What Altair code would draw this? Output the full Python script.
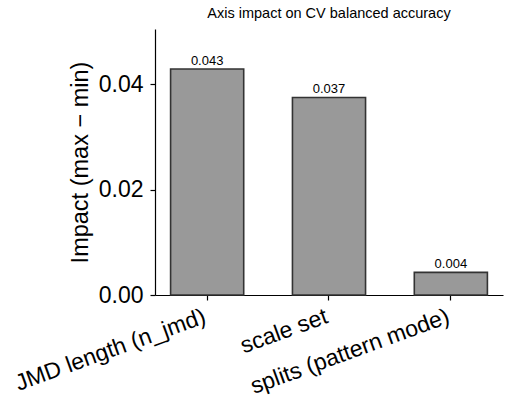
import altair as alt
import pandas as pd

categories = ["JMD length (n_jmd)", "scale set", "splits (pattern mode)"]
impacts = [0.0429, 0.0375, 0.0043]
value_labels = ["0.043", "0.037", "0.004"]

df = pd.DataFrame({"axis": categories, "impact": impacts, "label": value_labels})

FONT = "Liberation Sans"

base = alt.Chart(df).encode(
    x=alt.X(
        "axis:N",
        sort=categories,
        scale=alt.Scale(paddingInner=0.4, paddingOuter=0.128),
        axis=alt.Axis(
            title=None,
            labelAngle=340,
            labelAlign="right",
            labelBaseline="top",
            labelFontSize=23,
            labelPadding=5,
            labelOffset=-6,
            tickSize=5,
            labelLimit=400,
        ),
    ),
    y=alt.Y(
        "impact:Q",
        scale=alt.Scale(domain=[0, 0.0505], nice=False),
        axis=alt.Axis(
            values=[0, 0.02, 0.04],
            format=".2f",
            title="Impact (max − min)",
            titleFontSize=23.5,
            titleFontWeight="normal",
            titlePadding=6,
            labelFontSize=23,
            labelPadding=7,
            tickSize=5,
        ),
    ),
)

bars = base.mark_bar(color="#999999", stroke="#333333", strokeWidth=1.6)
text = base.mark_text(baseline="bottom", dy=-1, fontSize=13, font=FONT, color="black").encode(
    text="label:N"
)

chart = (
    (bars + text)
    .properties(
        width=348,
        height=266,
        title=alt.TitleParams(
            "Axis impact on CV balanced accuracy",
            fontSize=14.5,
            font=FONT,
            fontWeight="normal",
            offset=8,
            anchor="middle",
            color="black",
        ),
        padding={"left": 155, "top": 29, "right": 9, "bottom": 116},
        autosize="none",
    )
    .configure_view(stroke=None)
    .configure_axis(
        grid=False,
        domainColor="black",
        tickColor="black",
        labelColor="black",
        titleColor="black",
        labelFont=FONT,
        titleFont=FONT,
        domainWidth=1.2,
        tickWidth=1.2,
    )
)

chart.save("out.html", embed_options={"renderer": "svg", "actions": False})
